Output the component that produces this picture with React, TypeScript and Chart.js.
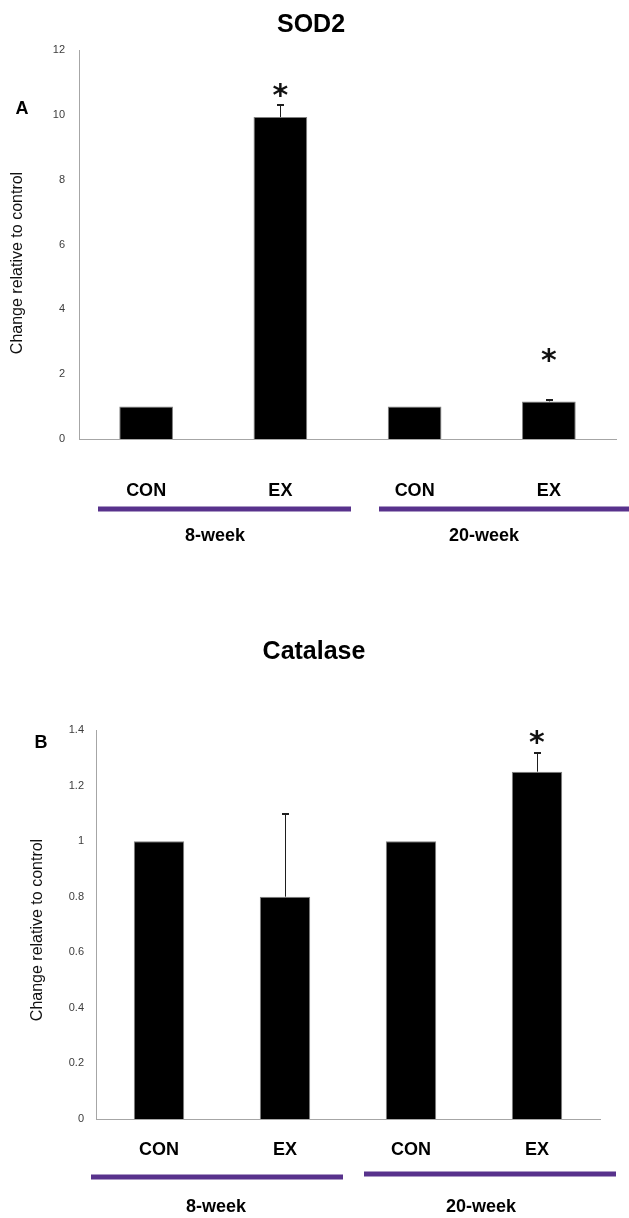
import React, { useEffect, useRef } from 'react';
import { Chart, registerables } from 'chart.js';

Chart.register(...registerables);

// ---------- data ----------
const categories = ['CON', 'EX', 'CON', 'EX'];
const groupLabels = ['8-week', '20-week'];

const sodValues = [1, 9.93, 1, 1.16];
const sodErrors = [0, 0.4, 0, 0.08];
const sodSignificant = [false, true, false, true];
const sodYTicks = [0, 2, 4, 6, 8, 10, 12];

const catalaseValues = [1, 0.8, 1, 1.25];
const catalaseErrors = [0, 0.3, 0, 0.07];
const catalaseSignificant = [false, false, false, true];
const catalaseYTicks = [0, 0.2, 0.4, 0.6, 0.8, 1, 1.2, 1.4];

const yAxisTitle = 'Change relative to control';

// ---------- styling ----------
const FONT = "'Liberation Sans', Arial, Helvetica, sans-serif";
const PURPLE = '#58328c';
const AXIS = '#a6a6a6';

const decorPlugin = {
  id: 'decor',
  afterDatasetsDraw(chart: any, _args: any, opts: any) {
    const ctx = chart.ctx;
    const meta = chart.getDatasetMeta(0);
    const ys = chart.scales.y;
    ctx.save();
    // error bars (upper only)
    opts.errors.forEach((e: number, i: number) => {
      if (!e) return;
      const bar = meta.data[i];
      const x = Math.round(bar.x) + 0.5;
      const y0 = ys.getPixelForValue(opts.values[i]);
      const y1 = Math.round(ys.getPixelForValue(opts.values[i] + e));
      ctx.strokeStyle = '#1e1e1e';
      ctx.lineWidth = 1;
      ctx.beginPath();
      ctx.moveTo(x, y0);
      ctx.lineTo(x, y1);
      ctx.stroke();
      ctx.lineWidth = 2;
      ctx.beginPath();
      ctx.moveTo(x - 3.5, y1 + 1);
      ctx.lineTo(x + 3.5, y1 + 1);
      ctx.stroke();
    });
    // significance asterisks
    ctx.fillStyle = '#111';
    ctx.font = `bold 30px 'DejaVu Sans', sans-serif`;
    ctx.textAlign = 'left';
    ctx.textBaseline = 'alphabetic';
    opts.significant.forEach((s: boolean, i: number) => {
      if (!s) return;
      const bar = meta.data[i];
      const cx = bar.x;
      const cy = ys.getPixelForValue(opts.starLevels[i]);
      const m = ctx.measureText('*');
      const X = cx - (m.actualBoundingBoxRight - m.actualBoundingBoxLeft) / 2;
      const Y = cy - (m.actualBoundingBoxDescent - m.actualBoundingBoxAscent) / 2;
      ctx.fillText('*', X, Y);
    });
    ctx.restore();
  },
  afterDraw(chart: any, _args: any, opts: any) {
    const ctx = chart.ctx;
    ctx.save();
    // chart title
    ctx.fillStyle = '#000';
    ctx.textAlign = 'center';
    ctx.textBaseline = 'middle';
    ctx.font = `bold 25px ${FONT}`;
    ctx.fillText(opts.title.text, opts.title.x, opts.title.y);
    // panel letter
    ctx.font = `bold 18px ${FONT}`;
    ctx.fillText(opts.letter.text, opts.letter.x, opts.letter.y);
    // y-axis title
    ctx.save();
    ctx.translate(opts.yTitle.x, opts.yTitle.y);
    ctx.rotate(-Math.PI / 2);
    ctx.font = `16px ${FONT}`;
    ctx.fillStyle = '#111';
    ctx.fillText(yAxisTitle, 0, 0);
    ctx.restore();
    // group underline bars and labels
    ctx.fillStyle = PURPLE;
    opts.groupLines.forEach((g: any) => {
      ctx.fillRect(g.x1, g.y - 2.5, g.x2 - g.x1, 5);
    });
    ctx.fillStyle = '#000';
    ctx.font = `bold 18px ${FONT}`;
    opts.groupText.forEach((g: any, i: number) => {
      ctx.fillText(groupLabels[i], g.x, g.y);
    });
    ctx.restore();
  },
};

function makeConfig(p: any) {
  return {
    type: 'bar',
    data: {
      labels: categories,
      datasets: [
        {
          data: p.values,
          backgroundColor: '#000000',
          borderColor: '#808080',
          borderWidth: 1,
          barPercentage: 0.4,
          categoryPercentage: 1,
        },
      ],
    },
    options: {
      animation: false,
      responsive: false,
      devicePixelRatio: 1,
      layout: { padding: { top: p.area.top, right: 629 - p.area.right, left: 0, bottom: 0 } },
      plugins: {
        legend: { display: false },
        tooltip: { enabled: false },
        title: { display: false },
        decor: p.decor,
      },
      scales: {
        x: {
          grid: { display: false, drawTicks: false, tickLength: 0 },
          border: { display: true, color: AXIS, width: 1 },
          ticks: {
            color: '#000',
            font: { family: FONT, size: 18, weight: 'bold' },
            padding: p.xPad,
            maxRotation: 0,
            autoSkip: false,
          },
          afterFit: (s: any) => {
            s.height = p.height - p.area.bottom;
          },
        },
        y: {
          min: p.yTicks[0],
          max: p.yTicks[p.yTicks.length - 1],
          grid: { display: false, drawTicks: false, tickLength: 0 },
          border: { display: true, color: AXIS, width: 1 },
          ticks: {
            stepSize: p.yTicks[1] - p.yTicks[0],
            color: '#3c3c3c',
            font: { family: FONT, size: 11 },
            padding: p.yPad,
            callback: (v: any) => String(Math.round(Number(v) * 1000) / 1000),
          },
          afterFit: (s: any) => {
            s.width = p.area.left;
          },
        },
      },
    },
    plugins: [decorPlugin],
  };
}

const sodConfig = makeConfig({
  values: sodValues,
  yTicks: sodYTicks,
  height: 600,
  area: { left: 79, right: 616, top: 50, bottom: 439 },
  xPad: 41,
  yPad: 14,
  decor: {
    values: sodValues,
    errors: sodErrors,
    significant: sodSignificant,
    starLevels: [0, 10.76, 0, 2.57],
    title: { text: 'SOD2', x: 311, y: 25 },
    letter: { text: 'A', x: 22, y: 109 },
    yTitle: { x: 18, y: 263 },
    groupLines: [
      { x1: 98, x2: 351, y: 509 },
      { x1: 379, x2: 629, y: 509 },
    ],
    groupText: [
      { x: 215, y: 536 },
      { x: 484, y: 536 },
    ],
  },
});

const catalaseConfig = makeConfig({
  values: catalaseValues,
  yTicks: catalaseYTicks,
  height: 618,
  area: { left: 96, right: 600, top: 130, bottom: 519 },
  xPad: 20,
  yPad: 12,
  decor: {
    values: catalaseValues,
    errors: catalaseErrors,
    significant: catalaseSignificant,
    starLevels: [0, 0, 0, 1.373],
    title: { text: 'Catalase', x: 314, y: 52 },
    letter: { text: 'B', x: 41, y: 143 },
    yTitle: { x: 38, y: 330 },
    groupLines: [
      { x1: 91, x2: 343, y: 577 },
      { x1: 364, x2: 616, y: 574 },
    ],
    groupText: [
      { x: 216, y: 607 },
      { x: 481, y: 607 },
    ],
  },
});

function Panel({ top, height, config }: { top: number; height: number; config: any }) {
  const ref = useRef<HTMLCanvasElement>(null);
  useEffect(() => {
    const chart = new Chart(ref.current as HTMLCanvasElement, config);
    return () => chart.destroy();
  }, [config]);
  return (
    <canvas
      ref={ref}
      width={629}
      height={height}
      style={{ position: 'absolute', left: 0, top, width: 629, height }}
    />
  );
}

export default function App() {
  return (
    <div style={{ position: 'absolute', left: 0, top: 0, width: 629, height: 1218, background: '#fff' }}>
      <Panel top={0} height={600} config={sodConfig} />
      <Panel top={600} height={618} config={catalaseConfig} />
    </div>
  );
}
